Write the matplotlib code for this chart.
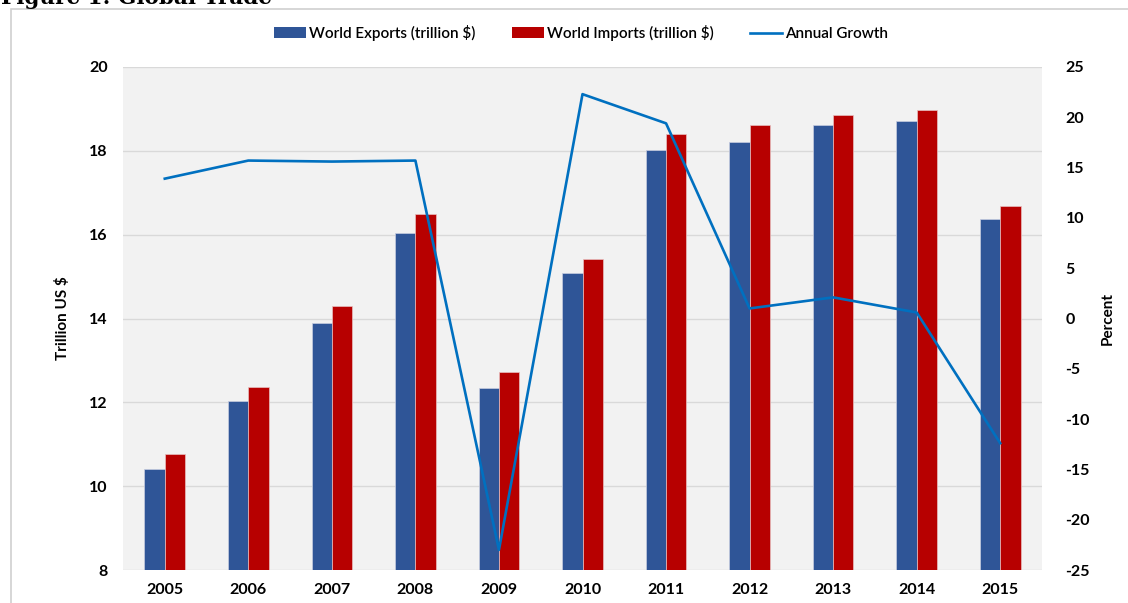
import matplotlib

matplotlib.use("Agg")
import matplotlib.pyplot as plt
import numpy as np
from matplotlib.lines import Line2D
from matplotlib.patches import Patch, Rectangle

years = ["2005", "2006", "2007", "2008", "2009", "2010",
         "2011", "2012", "2013", "2014", "2015"]
exports = [10.40, 12.03, 13.89, 16.03, 12.35, 15.08, 18.02, 18.21, 18.61, 18.72, 16.38]
imports = [10.76, 12.36, 14.30, 16.49, 12.72, 15.43, 18.40, 18.61, 18.86, 18.98, 16.69]
growth = [13.9, 15.7, 15.6, 15.7, -23.0, 22.3, 19.4, 1.0, 2.1, 0.6, -12.4]

left_ticks = [8, 10, 12, 14, 16, 18, 20]
right_ticks = [-25, -20, -15, -10, -5, 0, 5, 10, 15, 20, 25]

C_EXP = "#2F5597"
C_IMP = "#B70000"
C_LINE = "#0070C0"
FONT = ["Lato", "DejaVu Sans"]

plt.rcParams["font.family"] = FONT
plt.rcParams["axes.unicode_minus"] = False

fig = plt.figure(figsize=(11.28, 6.03), dpi=100)

# outer chart frame and the caption above it (cut by the crop, as in the source)
fig.patches.append(Rectangle((11 / 1128, -0.1), 1.2, 1 - 9 / 603 + 0.1,
                             transform=fig.transFigure, fill=False,
                             edgecolor="#d0d0d0", linewidth=1.2))
fig.text(1 / 1128, 1 - 4 / 603, "Figure 1: Global Trade", family="DejaVu Serif",
         fontweight="bold", fontsize=15.5, va="baseline", ha="left")

ax = fig.add_axes([123 / 1128, 33 / 603, 919 / 1128, 503 / 603])
ax.set_facecolor("#F2F2F2")
x = np.arange(len(years))
w = 0.243
ax.bar(x - w / 2, exports, w, color=C_EXP, edgecolor="#c8cde0", linewidth=0.5, zorder=2)
ax.bar(x + w / 2, imports, w, color=C_IMP, edgecolor="#e8c0c0", linewidth=0.5, zorder=2)
ax.set_xlim(-0.5, len(years) - 0.5)
ax.set_ylim(8, 20)
ax.set_yticks(left_ticks)
ax.set_xticks(x)
ax.set_xticklabels(years)
ax.grid(axis="y", color="#d9d9d9", linewidth=1.0, zorder=0)
ax.set_axisbelow(True)
for s in ax.spines.values():
    s.set_visible(False)
ax.tick_params(axis="both", length=0, labelsize=11.5)
ax.tick_params(axis="y", pad=11)
ax.tick_params(axis="x", pad=9)
for lab in ax.get_xticklabels() + ax.get_yticklabels():
    lab.set_fontweight("bold")
ax.set_ylabel("Trillion US $", fontsize=11, fontweight="bold", labelpad=14)

ax2 = ax.twinx()
ax2.plot(x, growth, color=C_LINE, linewidth=1.9, zorder=3)
ax2.set_ylim(-25, 25)
ax2.set_yticks(right_ticks)
for s in ax2.spines.values():
    s.set_visible(False)
ax2.tick_params(axis="y", length=0, labelsize=11.5, pad=17)
for lab in ax2.get_yticklabels():
    lab.set_fontweight("bold")
ax2.set_ylabel("Percent", fontsize=11, fontweight="bold", labelpad=8)

handles = [
    Patch(facecolor=C_EXP, label="World Exports (trillion $)"),
    Patch(facecolor=C_IMP, label="World Imports (trillion $)"),
    Line2D([], [], color=C_LINE, linewidth=1.9, label="Annual Growth"),
]
fig.legend(handles=handles, loc="center", bbox_to_anchor=(581 / 1128, 1 - 33 / 603),
           ncol=3, frameon=False, prop={"family": FONT, "size": 11, "weight": "semibold"},
           handlelength=2.1, handleheight=0.7, handletextpad=0.2, columnspacing=2.4)

fig.savefig("out.png", dpi=100)
